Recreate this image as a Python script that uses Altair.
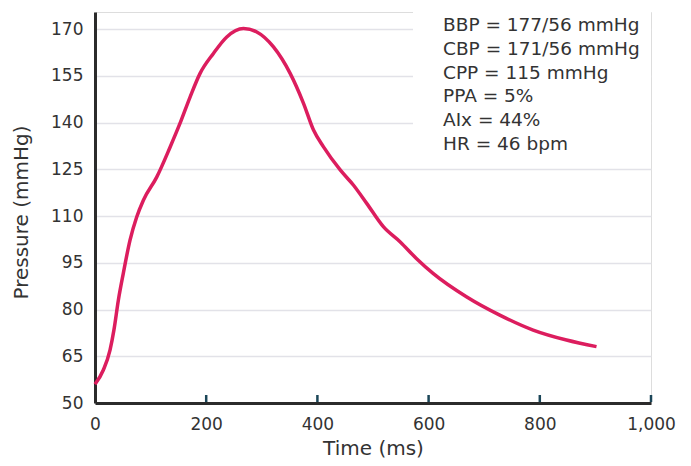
import altair as alt
import pandas as pd

# Pressure waveform
time_ms = [0, 15, 27, 34, 42, 51, 63, 75, 87, 111, 135, 153, 171, 189, 213, 237, 267,
           291, 321, 351, 375, 393, 411, 441, 465, 489, 519, 549, 578, 608, 668, 728,
           788, 848, 902]
pressure = [56, 60.6, 67, 73.4, 83, 91.7, 102.3, 109.7, 115.1, 122.5, 132.1, 139.8,
            148.2, 155.8, 162.2, 167.5, 170.2, 169.1, 164.3, 155.8, 146.2, 137.6,
            132.2, 124.8, 119.9, 114, 106.5, 101.7, 96.4, 91.6, 84.1, 78.2, 73.4,
            70.2, 68.1]

x_ticks = [0, 200, 400, 600, 800, 1000]
x_marker_ticks = [200, 400, 600, 800, 1000]
y_ticks = [50, 65, 80, 95, 110, 125, 140, 155, 170]

stats_lines = ["BBP = 177/56 mmHg", "CBP = 171/56 mmHg", "CPP = 115 mmHg",
               "PPA = 5%", "AIx = 44%", "HR = 46 bpm"]

FONT = "DejaVu Sans"
W, H = 556, 391

df = pd.DataFrame({"t": time_ms, "p": pressure})
ticks_df = pd.DataFrame({"t": x_marker_ticks})

xscale = alt.Scale(domain=[0, 1000], nice=False)
yscale = alt.Scale(domain=[50, 175.5], nice=False, zero=False)

xaxis = alt.Axis(values=x_ticks, format=",d", title="Time (ms)", ticks=False,
                 grid=False, domainColor="#2b2b2b", domainWidth=3, labelFlush=False,
                 labelFont=FONT, labelFontSize=17, labelColor="#333333",
                 labelPadding=13, titleFont=FONT, titleFontSize=20,
                 titleFontWeight="normal", titleColor="#333333", titlePadding=6)
yaxis = alt.Axis(values=y_ticks, title="Pressure (mmHg)", ticks=False,
                 grid=True, gridColor="#e2e2e8", gridWidth=1.5,
                 domainColor="#2b2b2b", domainWidth=3, labelFlush=False,
                 labelFont=FONT, labelFontSize=17, labelColor="#333333",
                 labelPadding=12, titleFont=FONT, titleFontSize=20,
                 titleFontWeight="normal", titleColor="#333333",
                 titleX=-64, titleY=200, titleAnchor="middle")

base = alt.Chart(df)

cover = base.mark_rect(color="white").encode(
    x=alt.value(318), x2=alt.value(W), y=alt.value(0), y2=alt.value(135)
)

line = base.mark_line(color="#dc1d5e", strokeWidth=3.5, interpolate="monotone").encode(
    x=alt.X("t:Q", scale=xscale, axis=xaxis),
    y=alt.Y("p:Q", scale=yscale, axis=yaxis),
)

tick_marks = alt.Chart(ticks_df).mark_rule(color="#1b4658", strokeWidth=2.5).encode(
    x=alt.X("t:Q", scale=xscale),
    y=alt.value(H - 1), y2=alt.value(H - 8),
)

text = alt.Chart(pd.DataFrame({"k": [0]})).mark_text(
    align="left", baseline="top", font=FONT, fontSize=18.5, color="#333333",
    lineHeight=23.8, text=stats_lines
).encode(x=alt.value(348), y=alt.value(4))

chart = alt.layer(cover, line, tick_marks, text).properties(
    width=W, height=H,
    autosize=alt.AutoSizeParams(type="none"),
    padding={"left": 87, "top": 4, "right": 32, "bottom": 55},
).configure_view(stroke=None).configure(background="white")

chart.save("out.html", embed_options={"renderer": "svg", "actions": False})
